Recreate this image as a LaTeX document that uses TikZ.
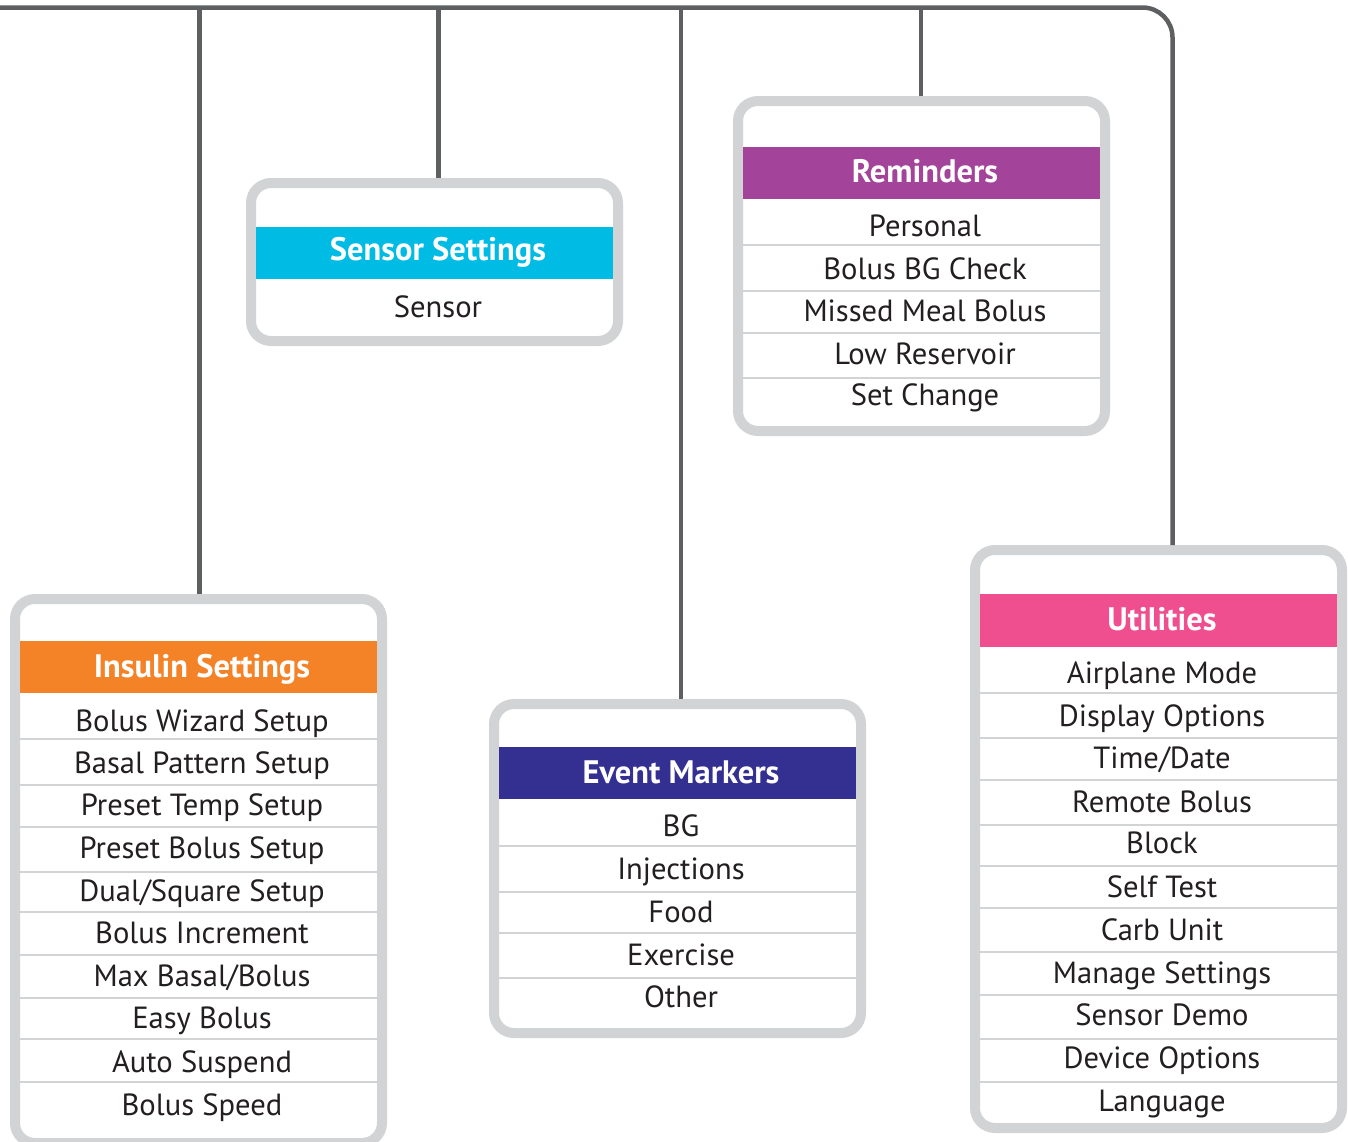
\documentclass[tikz,border=0pt]{standalone}
\usepackage{fontspec}
\setmainfont{PT Sans}
\definecolor{conncol}{HTML}{5E5F61}
\definecolor{framecol}{HTML}{D1D3D4}
\definecolor{txtcol}{HTML}{231F20}
\definecolor{cOrange}{HTML}{F48227}
\definecolor{cCyan}{HTML}{00BCE4}
\definecolor{cPurple}{HTML}{A3449A}
\definecolor{cNavy}{HTML}{333092}
\definecolor{cPink}{HTML}{EF4F8F}
\tikzset{
  conn/.style={draw=conncol, line width=4.5pt},
  frame/.style={draw=framecol, fill=white, line width=10pt, rounded corners=20pt, rectangle, inner sep=0pt, outer sep=5pt, minimum width=367pt},
  headbar/.style={rectangle, inner sep=0pt, outer sep=0pt, minimum width=357pt, minimum height=52pt},
  sepline/.style={draw=framecol, line width=2.6pt},
  rowtxt/.style={anchor=base, inner sep=0pt, text=txtcol, font=\fontsize{30.6}{34}\selectfont},
  headtxt/.style={anchor=base, inner sep=0pt, text=white, font=\fontsize{32.5}{36}\selectfont\bfseries},
}
\begin{document}
\begin{tikzpicture}[x=1pt,y=-1pt]
\useasboundingbox (0,0) rectangle (1348,1141);
\clip (0,0) rectangle (1348,1141);
% ---------- frames ----------
\node[frame, minimum height=544pt] (ins) at (198.5,871) {};
\node[frame, minimum height=158pt] (sen) at (434.5,262) {};
\node[frame, minimum height=330pt] (rem) at (921.5,266) {};
\node[frame, minimum height=329pt] (evt) at (677.5,868.5) {};
\node[frame, minimum height=578pt] (uti) at (1158.5,839) {};
% ---------- connectors ----------
\coordinate (busL) at (-20,7.5);
\coordinate (busR) at (1172.5,7.5);
\coordinate (t1) at (199.5,7.5);
\coordinate (t2) at (438.5,7.5);
\coordinate (t3) at (681,7.5);
\coordinate (t4) at (921,7.5);
\draw[conn, rounded corners=30pt] (busL) -- (busR) -- (busR |- uti.north);
\draw[conn] (t1) -- (t1 |- ins.north);
\draw[conn] (t2) -- (t2 |- sen.north);
\draw[conn] (t3) -- (t3 |- evt.north);
\draw[conn] (t4) -- (t4 |- rem.north);
% ---------- header bars ----------
\node[headbar, fill=cOrange] (insbar) at (198.5,667) {};
\node[headbar, fill=cCyan] (senbar) at (434.5,253) {};
\node[headbar, fill=cPurple] (rembar) at (921.5,173) {};
\node[headbar, fill=cNavy] (evtbar) at (677.5,773) {};
\node[headbar, fill=cPink, minimum height=53pt] (utibar) at (1158.5,620.5) {};
\node[headtxt] (insh) at (202,677) {Insulin Settings};
\node[headtxt] (senh) at (438,260) {Sensor Settings};
\node[headtxt] (remh) at (925,182) {Reminders};
\node[headtxt] (evth) at (681,783) {Event Markers};
\node[headtxt] (utih) at (1162,630) {Utilities};
% ---------- separators ----------
\foreach \y in {739,785,827,872,912,955,998,1039,1082} \draw[sepline] (20,\y) -- (377,\y);
\foreach \y in {846,892,933,978} \draw[sepline] (499,\y) -- (856,\y);
\foreach \y in {245,291,333,378} \draw[sepline] (743,\y) -- (1100,\y);
\foreach \y in {693,738,780,825,866,908,952,995,1039,1082} \draw[sepline] (980,\y) -- (1337,\y);
% ---------- rows: Insulin Settings ----------
\node[rowtxt] (ins1) at (202,731) {Bolus Wizard Setup};
\node[rowtxt] (ins2) at (202,773) {Basal Pattern Setup};
\node[rowtxt] (ins3) at (202,815) {Preset Temp Setup};
\node[rowtxt] (ins4) at (202,858) {Preset Bolus Setup};
\node[rowtxt] (ins5) at (202,901) {Dual/Square Setup};
\node[rowtxt] (ins6) at (202,943) {Bolus Increment};
\node[rowtxt] (ins7) at (202,986) {Max Basal/Bolus};
\node[rowtxt] (ins8) at (202,1028) {Easy Bolus};
\node[rowtxt] (ins9) at (202,1072) {Auto Suspend};
\node[rowtxt] (ins10) at (202,1115) {Bolus Speed};
% ---------- rows: Sensor Settings ----------
\node[rowtxt] (sen1) at (438,317) {Sensor};
% ---------- rows: Reminders ----------
\node[rowtxt] (rem1) at (925,236) {Personal};
\node[rowtxt] (rem2) at (925,279) {Bolus BG Check};
\node[rowtxt] (rem3) at (925,321) {Missed Meal Bolus};
\node[rowtxt] (rem4) at (925,364) {Low Reservoir};
\node[rowtxt] (rem5) at (925,405) {Set Change};
% ---------- rows: Event Markers ----------
\node[rowtxt] (evt1) at (681,836) {BG};
\node[rowtxt] (evt2) at (681,879) {Injections};
\node[rowtxt] (evt3) at (681,922) {Food};
\node[rowtxt] (evt4) at (681,965) {Exercise};
\node[rowtxt] (evt5) at (681,1007) {Other};
% ---------- rows: Utilities ----------
\node[rowtxt] (uti1) at (1162,683) {Airplane Mode};
\node[rowtxt] (uti2) at (1162,726) {Display Options};
\node[rowtxt] (uti3) at (1162,768) {Time/Date};
\node[rowtxt] (uti4) at (1162,812) {Remote Bolus};
\node[rowtxt] (uti5) at (1162,853) {Block};
\node[rowtxt] (uti6) at (1162,897) {Self Test};
\node[rowtxt] (uti7) at (1162,940) {Carb Unit};
\node[rowtxt] (uti8) at (1162,983) {Manage Settings};
\node[rowtxt] (uti9) at (1162,1025) {Sensor Demo};
\node[rowtxt] (uti10) at (1162,1068) {Device Options};
\node[rowtxt] (uti11) at (1162,1111) {Language};
\end{tikzpicture}
\end{document}
